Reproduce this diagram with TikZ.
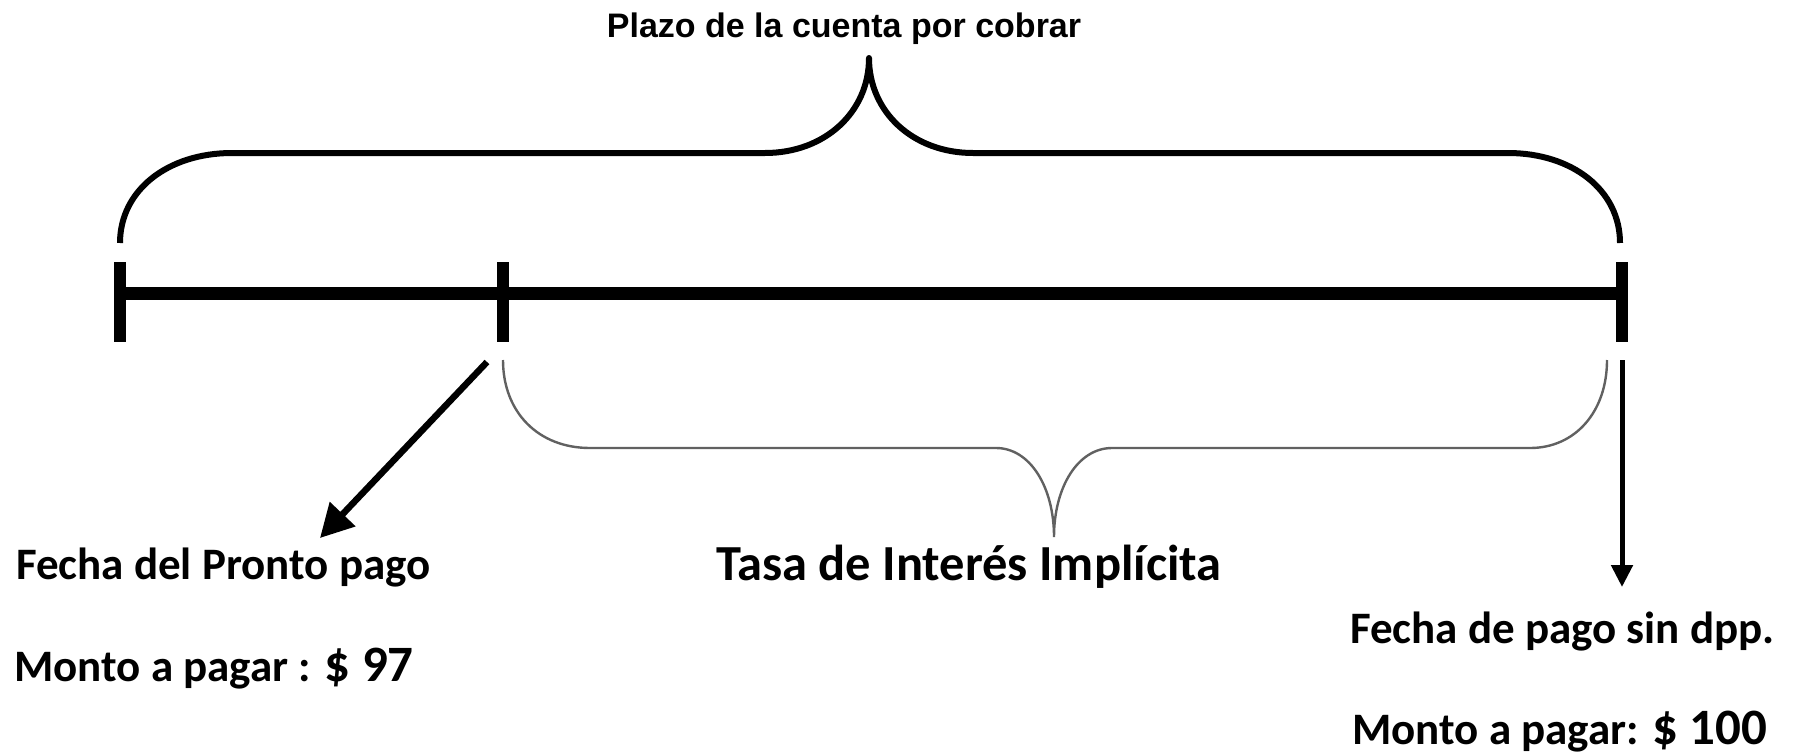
\documentclass[tikz,border=0pt]{standalone}
\usepackage{fontspec}
\setmainfont{Carlito}
\newfontfamily\arialfont{Liberation Sans}
\usetikzlibrary{arrows.meta}
\begin{document}
\begin{tikzpicture}[x=1pt,y=-1pt,
  mainln/.style={line width=13pt,line cap=butt},
  tickln/.style={line width=12pt,line cap=butt},
  bigbrace/.style={line width=6pt,line cap=butt,line join=round},
  smallbrace/.style={line width=2.4pt,draw=black!62,line cap=butt},
  arrA/.style={line width=6.5pt,-{Triangle[length=33pt,width=34pt]}},
  arrB/.style={line width=5pt,-{Triangle[length=22pt,width=21pt]}},
  lbl/.style={inner sep=0pt,anchor=base west,font=\fontsize{45pt}{54pt}\selectfont\bfseries}
]
\useasboundingbox (0,0) rectangle (1801,755);
\fill[white] (0,0) rectangle (1801,755);

% timeline
\coordinate (t0) at (120,293);
\coordinate (t1) at (503,293);
\coordinate (t2) at (1622,293);
\draw[mainln] (t0) -- (t2);
\draw[tickln] (120,262) -- (120,342);
\draw[tickln] (503,262) -- (503,342);
\draw[tickln] (1622,262) -- (1622,342);

% top brace
\draw[bigbrace] (120,243) .. controls (120,190) and (168,153) .. (232,153)
  -- (765,153) .. controls (825,153) and (869,112) .. (869,58)
  .. controls (869,112) and (913,153) .. (973,153)
  -- (1508,153) .. controls (1572,153) and (1620,190) .. (1620,243);
\node[inner sep=0pt,anchor=base,font=\arialfont\fontsize{34pt}{40pt}\selectfont\bfseries] (plazo) at (844,37) {Plazo de la cuenta por cobrar};

% bottom brace
\draw[smallbrace] (503,360) .. controls (503,412) and (538,448) .. (590,448)
  -- (996,448) .. controls (1030,448) and (1054,487) .. (1054,537)
  .. controls (1054,487) and (1078,448) .. (1112,448)
  -- (1530,448) .. controls (1575,448) and (1607,412) .. (1607,360);
\node[inner sep=0pt,anchor=base west,font=\fontsize{50.5pt}{60pt}\selectfont\bfseries] (tasa) at (716,580) {Tasa de Interés Implícita};

% left labels
\node[lbl] (fecha1) at (16,579) {Fecha del Pronto pago};
\node[lbl] (monto1) at (14,681) {Monto a pagar : {\fontsize{51pt}{60pt}\selectfont \$ 97}};

% right labels
\node[lbl] (fecha2) at (1350,643) {Fecha de pago sin dpp.};
\node[lbl] (monto2) at (1352,744) {Monto a pagar: {\fontsize{51pt}{60pt}\selectfont \$ 100}};

% arrows
\coordinate (a1s) at (487,362);
\coordinate (a1e) at (320,538);
\draw[arrA] (a1s) -- (a1e);
\coordinate (a2s) at (1622,360);
\coordinate (a2e) at (1622,587);
\draw[arrB] (a2s) -- (a2e);
\end{tikzpicture}
\end{document}
